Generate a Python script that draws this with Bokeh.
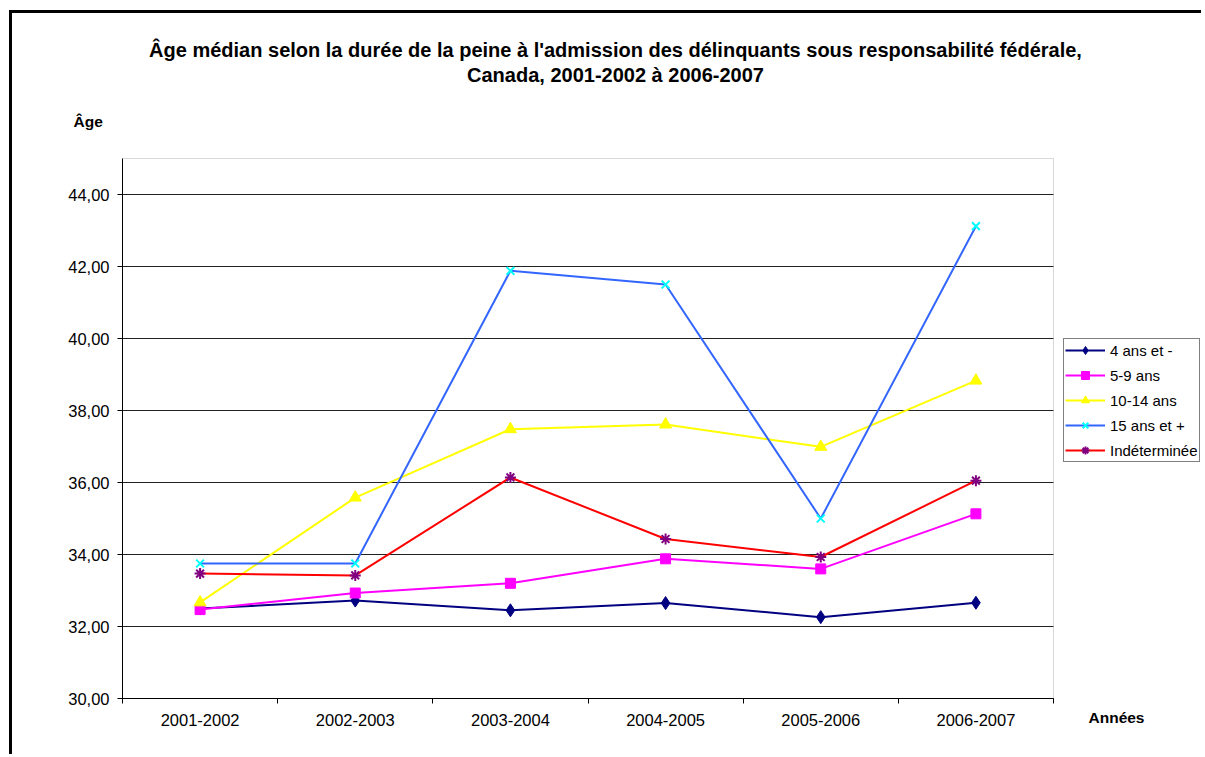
from bokeh.plotting import figure
from bokeh.models import Range1d, FixedTicker, Label, Legend, LegendItem, BoxAnnotation
from bokeh.embed import file_html
from bokeh.resources import INLINE

# ---- data ----
categories = ["2001-2002", "2002-2003", "2003-2004", "2004-2005", "2005-2006", "2006-2007"]
series_names = ["4 ans et -", "5-9 ans", "10-14 ans", "15 ans et +", "Indéterminée"]
v_4_moins = [32.50, 32.72, 32.45, 32.65, 32.26, 32.66]
v_5_9 = [32.47, 32.93, 33.20, 33.88, 33.60, 35.13]
v_10_14 = [32.67, 35.58, 37.48, 37.61, 36.99, 38.83]
v_15_plus = [33.75, 33.75, 41.88, 41.50, 35.00, 43.12]
v_indet = [33.47, 33.42, 36.14, 34.43, 33.93, 36.05]
y_ticks = [30, 32, 34, 36, 38, 40, 42, 44]
y_min, y_max = 30, 45

title_1 = "Âge médian selon la durée de la peine à l'admission des délinquants sous responsabilité fédérale,"
title_2 = "Canada, 2001-2002 à 2006-2007"
y_title = "Âge"
x_title = "Années"

FONT = "Liberation Sans"

# ---- layout geometry (page pixels) ----
W, H = 1192, 744
CX0, CY0 = 12, 13                     # canvas origin on the page (margin + border)
PA_L, PA_R, PA_T, PA_B = 122, 1053, 158, 698   # plot area on the page

n = len(categories)
x_per = (PA_R - PA_L) / n
y_per = (PA_B - PA_T) / (y_max - y_min)
x_start = 0 - (PA_L - CX0) / x_per
x_end = n + (CX0 + W - PA_R) / x_per
y_start = y_min - (CY0 + H - PA_B) / y_per
y_end = y_max + (PA_T - CY0) / y_per


def px_x(px):
    return (px - PA_L) / x_per


def px_y(py):
    return y_min + (PA_B - py) / y_per


p = figure(width=W, height=H, output_backend="svg", toolbar_location=None,
           x_range=Range1d(x_start, x_end), y_range=Range1d(y_start, y_end),
           min_border=0,
           styles={"margin-left": "9px", "margin-top": "10px",
                   "border-left": "3px solid black", "border-top": "3px solid black"})
p.outline_line_color = None
p.background_fill_color = "white"
p.border_fill_color = "white"

xs = [i + 0.5 for i in range(n)]

# plot-area outline
p.add_layout(BoxAnnotation(left=0, right=n, bottom=y_min, top=y_max,
                           fill_alpha=0, line_color="#808080", line_width=1,
                           level="underlay"))

# x axis
p.xaxis.fixed_location = y_min
p.xaxis.bounds = (0, n)
p.xaxis.ticker = FixedTicker(ticks=xs, minor_ticks=list(range(n + 1)))
p.xaxis.major_label_overrides = {x: c for x, c in zip(xs, categories)}
p.xaxis.major_tick_line_color = None
p.xaxis.major_tick_out = 0
p.xaxis.major_tick_in = 0
p.xaxis.minor_tick_out = 5
p.xaxis.minor_tick_in = 0
p.xaxis.minor_tick_line_color = "black"
p.xaxis.axis_line_color = "black"
p.xaxis.major_label_text_font = FONT
p.xaxis.major_label_text_font_size = "16.5px"
p.xaxis.major_label_text_color = "black"
p.xaxis.major_label_standoff = 10

# y axis
p.yaxis.fixed_location = 0
p.yaxis.bounds = (y_min, y_max)
p.yaxis.ticker = FixedTicker(ticks=y_ticks)
p.yaxis.major_label_overrides = {t: f"{t:.2f}".replace(".", ",") for t in y_ticks}
p.yaxis.major_tick_out = 5
p.yaxis.major_tick_in = 0
p.yaxis.minor_tick_line_color = None
p.yaxis.axis_line_color = "black"
p.yaxis.major_tick_line_color = "black"
p.yaxis.major_label_text_font = FONT
p.yaxis.major_label_text_font_size = "16.5px"
p.yaxis.major_label_text_color = "black"
p.yaxis.major_label_standoff = 8

p.xgrid.visible = False
p.ygrid.ticker = FixedTicker(ticks=y_ticks)
p.ygrid.grid_line_color = "#222222"
p.ygrid.grid_line_width = 1
try:
    p.ygrid.cross_bounds = (0, n)
except AttributeError:
    p.ygrid.visible = False
    p.segment(x0=[0] * len(y_ticks), x1=[n] * len(y_ticks), y0=y_ticks, y1=y_ticks,
              line_color="#222222", line_width=1, level="underlay")

styles = [
    dict(vals=v_4_moins, line="#000080", marker="diamond", mcolor="#000080", size=13, lw=1),
    dict(vals=v_5_9, line="#FF00FF", marker="square", mcolor="#FF00FF", size=10, lw=1),
    dict(vals=v_10_14, line="#FFFF00", marker="triangle", mcolor="#FFFF00", size=12, lw=1),
    dict(vals=v_15_plus, line="#3366FF", marker="x", mcolor="#00FFFF", size=11, lw=2),
    dict(vals=v_indet, line="#FF0000", marker="asterisk", mcolor="#800080", size=11, lw=2),
]

items = []
for name, s in zip(series_names, styles):
    lr = p.line(xs, s["vals"], line_color=s["line"], line_width=2)
    sr = p.scatter(xs, s["vals"], marker=s["marker"], size=s["size"],
                   fill_color=s["mcolor"], line_color=s["mcolor"], line_width=s["lw"])
    items.append(LegendItem(label=name, renderers=[lr, sr]))

legend = Legend(items=items, location=(1063 - CX0, CY0 + H - 462))
legend.label_text_font = FONT
legend.label_text_font_size = "15px"
legend.label_text_color = "black"
legend.border_line_color = "black"
legend.border_line_width = 1
legend.background_fill_color = "white"
legend.background_fill_alpha = 1
legend.padding = 1
legend.spacing = 5
legend.margin = 0
legend.glyph_height = 20
legend.glyph_width = 40
legend.label_height = 20
legend.label_standoff = 5
p.add_layout(legend)

for txt, px, py, align, size in [(title_1, 615, 49, "center", "20px"),
                                 (title_2, 615, 74, "center", "20px"),
                                 (y_title, 73, 121, "left", "15.5px"),
                                 (x_title, 1088, 717, "left", "15.5px")]:
    p.add_layout(Label(x=px_x(px), y=px_y(py), text=txt,
                       text_font=FONT, text_font_style="bold", text_font_size=size,
                       text_align=align, text_baseline="middle", text_color="black"))

open("out.html", "w").write(file_html(p, INLINE))
